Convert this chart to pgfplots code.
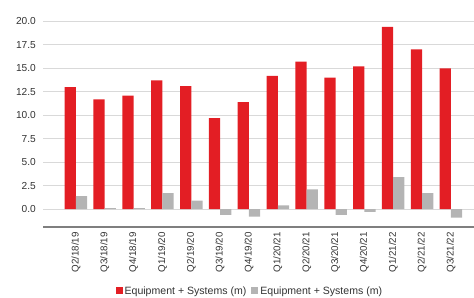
\documentclass[border=0pt]{standalone}
\usepackage{pgfplots}
\pgfplotsset{compat=1.18}
\usepackage{fontspec}
\setmainfont{Liberation Sans}
\definecolor{barred}{HTML}{E31E24}
\definecolor{bargray}{HTML}{B4B4B4}
\definecolor{gridgray}{HTML}{D9D9D9}
\definecolor{axgray}{HTML}{7F7F7F}
\definecolor{txt}{HTML}{333333}
\begin{document}
\begin{tikzpicture}
\begin{axis}[
  scale only axis,
  width=431bp, height=205.7bp,
  at={(43bp,71bp)}, anchor=south west,
  xmin=-1.14, xmax=13.8,
  ymin=-1.9, ymax=20,
  ytick={0,2.5,...,20},
  ymajorgrids,
  grid style={gridgray, line width=0.9pt},
  axis x line*=bottom,
  axis y line*=left,
  y axis line style={draw=none},
  x axis line style={axgray, line width=1.3pt},
  ytick style={draw=none},
  xtick style={draw=white, line width=0.8pt},
  major tick length=4bp,
  tick align=center,
  xtick={0,...,13},
  xticklabels={Q2/18/19,Q3/18/19,Q4/18/19,Q1/19/20,Q2/19/20,Q3/19/20,Q4/19/20,Q1/20/21,Q2/20/21,Q3/20/21,Q4/20/21,Q1/21/22,Q2/21/22,Q3/21/22},
  xticklabel style={rotate=90, anchor=east, font=\fontsize{9.8}{10}\selectfont, text=txt, inner sep=1pt},
  yticklabel style={font=\fontsize{10.2}{11}\selectfont, text=txt, inner sep=1pt, xshift=-4bp},
  /pgf/number format/assume math mode=true,
  /pgf/number format/.cd, fixed, fixed zerofill, precision=1, /pgfplots/.cd,
  ybar, bar width=0.39,
  legend columns=2,
  legend style={draw=none, at={(0.48,-0.311)}, anchor=center, font=\fontsize{10.6}{11}\selectfont, text=txt,
    /tikz/every even column/.append style={column sep=3bp}},
  legend image code/.code={\fill[#1] (0bp,-3.5bp) rectangle (7bp,3.5bp);},
]
\addplot[fill=barred, draw=none, bar shift=-0.195] coordinates {
(0,13.0) (1,11.7) (2,12.1) (3,13.7) (4,13.1) (5,9.7) (6,11.4) (7,14.2) (8,15.7) (9,14.0) (10,15.2) (11,19.4) (12,17.0) (13,15.0)};
\addlegendentry{Equipment + Systems (m)}
\addplot[fill=bargray, draw=none, bar shift=0.195] coordinates {
(0,1.4) (1,0.1) (2,0.1) (3,1.7) (4,0.9) (5,-0.6) (6,-0.8) (7,0.4) (8,2.1) (9,-0.6) (10,-0.3) (11,3.4) (12,1.7) (13,-0.9)};
\addlegendentry{Equipment + Systems (m)}
\end{axis}
\pgfresetboundingbox
\path (0,0) rectangle (474bp,298bp);
\end{tikzpicture}
\end{document}
